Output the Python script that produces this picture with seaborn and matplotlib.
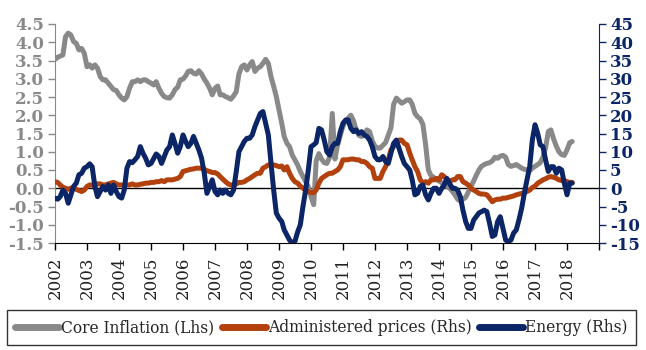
import matplotlib
matplotlib.use("Agg")
import matplotlib.pyplot as plt
import seaborn as sns
import pandas as pd

# Monthly data, Jan 2002 - Mar 2018
core_inflation = [
    3.53, 3.59, 3.62, 3.65, 4.15, 4.25, 4.2, 4.02, 3.97, 3.79, 3.83, 3.7,
    3.33, 3.38, 3.29, 3.38, 3.29, 3.06, 2.97, 2.97, 2.88, 2.79, 2.7, 2.68,
    2.56, 2.47, 2.42, 2.51, 2.74, 2.92, 2.92, 2.97, 2.92, 2.97, 2.97, 2.92,
    2.88, 2.83, 2.92, 2.74, 2.6, 2.51, 2.48, 2.47, 2.56, 2.7, 2.77, 2.97,
    2.99, 3.08, 3.2, 3.22, 3.15, 3.13, 3.22, 3.13, 2.99, 2.88, 2.74, 2.56,
    2.74, 2.8, 2.56, 2.56, 2.51, 2.48, 2.44, 2.53, 2.65, 3.13, 3.33, 3.38,
    3.24, 3.38, 3.47, 3.2, 3.29, 3.33, 3.42, 3.53, 3.42, 3.06, 2.79, 2.51,
    2.15, 1.78, 1.42, 1.23, 1.14, 0.91, 0.78, 0.64, 0.46, 0.32, 0.18, 0.05,
    -0.23, -0.45, 0.75, 0.95, 0.8, 0.7, 0.68, 0.85, 2.05, 0.8, 1.2, 1.45,
    1.7, 1.85, 1.92, 2.0, 1.85, 1.6, 1.45, 1.42, 1.45, 1.6, 1.55, 1.3,
    1.15, 1.1, 1.1, 1.18, 1.25, 1.45, 1.65, 2.3, 2.47, 2.4, 2.33, 2.37,
    2.42, 2.42, 2.3, 2.05, 1.96, 1.9, 1.75, 1.2, 0.5, 0.35, 0.3, 0.23,
    0.2, 0.15, 0.1, 0.05, 0.0, -0.08, -0.18, -0.3, -0.35, -0.3, -0.25, -0.1,
    0.05, 0.2, 0.35, 0.5, 0.6, 0.65, 0.68, 0.7, 0.75, 0.85, 0.82, 0.88,
    0.9, 0.85, 0.65, 0.6, 0.62, 0.65, 0.6, 0.55, 0.52, 0.5, 0.48, 0.55,
    0.6, 0.65, 0.7, 0.85, 1.1, 1.55, 1.6, 1.35, 1.15, 1.0, 0.92, 0.9,
    1.05, 1.25, 1.28,
]

administered = [
    1.8, 1.6, 0.9, 0.3, 0.0, -0.3, 0.0, 0.0, -0.3, -0.6, -0.9, -0.5,
    0.5, 0.9, 0.9, 0.6, 1.2, 1.2, 0.9, 0.9, 1.2, 1.4, 1.6, 1.2,
    0.9, 0.9, 0.9, 0.9, 0.9, 1.2, 0.9, 0.9, 1.1, 1.2, 1.4, 1.4,
    1.6, 1.6, 1.8, 1.8, 2.1, 1.8, 2.3, 2.3, 2.3, 2.5, 2.7, 3.2,
    4.6, 4.8, 5.0, 5.2, 5.3, 5.5, 5.5, 5.5, 5.2, 4.8, 4.6, 4.3,
    4.3, 3.9, 3.2, 2.5, 1.8, 1.2, 0.9, 0.9, 1.2, 1.6, 1.6, 1.8,
    2.3, 2.7, 3.2, 3.7, 4.1, 4.1, 5.5, 5.9, 6.4, 6.4, 6.4, 6.2,
    5.9, 6.1, 5.0, 5.9, 4.1, 2.7, 1.8, 1.4, 0.6, 0.0, -0.5, -0.9,
    -1.2, -1.2, -0.5, 1.4, 2.7, 3.2, 3.7, 4.1, 4.1, 4.6, 5.0, 5.9,
    7.8, 7.8, 7.8, 8.0, 8.0, 7.8, 7.8, 7.3, 7.3, 6.8, 5.9, 5.5,
    2.7, 2.7, 2.7, 4.6, 5.9, 7.8, 10.5, 11.4, 12.3, 13.2, 13.2, 12.3,
    11.9, 9.6, 7.8, 5.9, 4.6, 2.3, 1.4, 1.8, 1.4, 2.3, 2.3, 2.7,
    2.3, 3.7, 3.2, 2.3, 1.8, 2.3, 2.3, 3.2, 3.2, 1.8, 1.4, 0.9,
    0.0, -0.5, -0.9, -1.4, -1.6, -1.6, -1.8, -2.7, -3.7, -3.2, -3.0, -3.0,
    -2.7, -2.7, -2.5, -2.3, -2.1, -1.8, -1.6, -1.4, -1.2, -0.9, -0.5, 0.2,
    0.6, 1.4, 1.8, 2.3, 2.6, 3.0, 3.2, 3.0, 2.7, 2.3, 2.1, 2.1,
    1.8, 1.6, 1.6,
]

energy = [
    -2.7, -3.0, -2.3, -0.5, -1.4, -4.1, -1.8, 0.5, 1.4, 3.7, 4.1, 5.5,
    5.9, 6.7, 5.9, 0.5, -2.3, -0.9, 0.5, -0.5, 0.9, -1.4, 0.9, -0.9,
    -2.3, -2.7, -0.5, 5.5, 7.3, 7.0, 7.8, 8.7, 11.4, 9.6, 8.2, 6.4,
    6.8, 8.2, 9.4, 8.7, 6.8, 8.7, 10.5, 11.4, 14.6, 12.3, 9.6, 11.4,
    14.6, 12.8, 11.4, 12.3, 14.2, 12.3, 10.5, 8.2, 4.1, -1.4, 0.5, 2.3,
    -0.9, -1.8, -0.5, -1.4, -0.5, -1.4, -1.8, -0.5, 4.6, 10.0, 11.4, 12.8,
    13.7, 13.7, 14.6, 16.9, 18.7, 20.5, 21.0, 17.8, 14.6, 7.0, -0.5, -6.8,
    -8.2, -9.1, -11.4, -12.8, -14.2, -15.0, -14.6, -12.0, -10.0, -5.0, -0.5, 5.0,
    11.4, 11.9, 12.5, 16.4, 16.0, 13.2, 10.0, 9.1, 11.4, 12.3, 12.3, 15.5,
    17.8, 18.7, 18.7, 16.4, 15.5, 16.0, 15.0, 15.5, 14.6, 14.2, 13.2, 11.4,
    8.7, 7.8, 7.8, 8.7, 7.3, 6.8, 9.6, 12.3, 13.2, 11.0, 8.7, 6.8,
    5.9, 5.0, 2.3, -1.8, -1.4, 0.5, 0.9, -1.8, -3.2, -1.4, 0.0, 0.0,
    -1.4, 0.0, 0.9, 2.7, 1.4, 0.0, 0.0, -0.5, -2.3, -6.0, -9.1, -11.0,
    -11.0, -8.7, -7.8, -6.8, -6.4, -6.0, -6.4, -9.6, -13.2, -12.8, -9.1, -7.8,
    -11.0, -14.2, -14.6, -14.2, -12.3, -11.4, -8.7, -5.5, -1.4, 2.3, 5.9, 13.2,
    17.4, 15.0, 11.9, 11.4, 7.8, 4.6, 5.9, 5.9, 4.1, 5.5, 5.0, 1.4,
    -1.8, 1.4, 1.4,
]

years = list(range(2002, 2020))
year_labels = [str(y) for y in range(2002, 2019)] + [""]
left_ticks = [-1.5, -1.0, -0.5, 0.0, 0.5, 1.0, 1.5, 2.0, 2.5, 3.0, 3.5, 4.0, 4.5]
right_ticks = [-15, -10, -5, 0, 5, 10, 15, 20, 25, 30, 35, 40, 45]

GRAY = "#898989"
BROWN = "#b2410e"
NAVY = "#0b2566"

dates = pd.date_range("2002-01-01", periods=len(core_inflation), freq="MS")
df = pd.DataFrame({"date": dates, "core": core_inflation,
                   "admin": administered, "energy": energy})

sns.set_style("white")
plt.rcParams["font.family"] = ["DejaVu Serif"]

fig = plt.figure(figsize=(6.46, 3.5), dpi=100)
ax1 = fig.add_axes([55 / 646, 1 - 243 / 350, 544 / 646, 219 / 350])
ax2 = ax1.twinx()

sns.lineplot(data=df, x="date", y="core", ax=ax1, color=GRAY, lw=3.6,
             label="Core Inflation (Lhs)", legend=False)
sns.lineplot(data=df, x="date", y="admin", ax=ax2, color=BROWN, lw=3.6,
             label="Administered prices (Rhs)", legend=False)
sns.lineplot(data=df, x="date", y="energy", ax=ax2, color=NAVY, lw=3.6,
             label="Energy (Rhs)", legend=False)

ax1.axhline(0, color="black", lw=1, zorder=0)

ax1.set_ylim(-1.5, 4.5)
ax2.set_ylim(-15, 45)
ax1.set_xlim(pd.Timestamp("2002-01-01"), pd.Timestamp("2019-01-01"))

ax1.set_xticks([pd.Timestamp(f"{y}-01-01") for y in years])
ax1.set_xticklabels(year_labels, rotation=90, fontsize=12, color="#222222")
ax1.set_yticks(left_ticks)
ax1.set_yticklabels([f"{t:.1f}" for t in left_ticks], fontsize=12,
                    fontweight="bold", color=GRAY)
ax2.set_yticks(right_ticks)
ax2.set_yticklabels([str(t) for t in right_ticks], fontsize=12,
                    fontweight="bold", color=NAVY)

for ax in (ax1, ax2):
    ax.set_xlabel("")
    ax.set_ylabel("")
    ax.spines["top"].set_visible(False)
ax1.spines["right"].set_visible(False)
ax1.spines["left"].set_color(GRAY)
ax1.spines["bottom"].set_color("black")
ax2.spines["left"].set_visible(False)
ax2.spines["bottom"].set_visible(False)
ax2.spines["right"].set_color(NAVY)

ax1.tick_params(axis="x", direction="out", length=5, width=1, color="black",
                bottom=True, pad=5)
ax1.tick_params(axis="y", direction="out", length=5, width=1, color=GRAY,
                left=True, pad=3)
ax2.tick_params(axis="y", direction="out", length=5, width=1, color=NAVY,
                right=True, pad=3)

handles = ax1.get_lines()[:1] + ax2.get_lines()[:2]
labels = ["Core Inflation (Lhs)", "Administered prices (Rhs)", "Energy (Rhs)"]
leg = fig.legend(handles, labels, loc="center",
                 bbox_to_anchor=(321.5 / 646, 1 - 327.5 / 350), ncol=3,
                 frameon=True, fancybox=False, edgecolor="black",
                 fontsize=11.2, handlelength=2.8, handletextpad=0.15,
                 columnspacing=0.5, borderpad=0.55, borderaxespad=0)
leg.get_frame().set_linewidth(1)
for line in leg.get_lines():
    line.set_linewidth(5)
    line.set_solid_capstyle("round")

fig.savefig("out.png", dpi=100)
